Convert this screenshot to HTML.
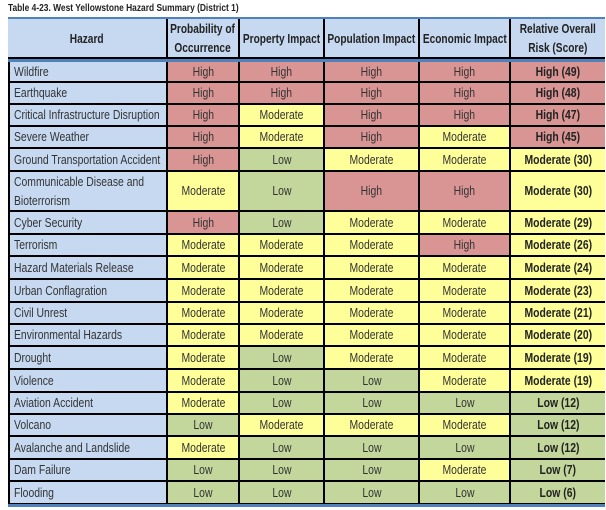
<!DOCTYPE html>
<html><head><meta charset="utf-8"><style>
body{margin:0;width:606px;height:510px;background:#fff;position:relative;overflow:hidden;font-family:"Liberation Sans",sans-serif;}
#title{position:absolute;left:8px;top:2px;font-size:10.5px;font-weight:bold;color:#222;white-space:nowrap;transform:scaleX(0.8);transform-origin:left top;}
.c{position:absolute;box-sizing:border-box;border-right:2px solid #000;border-bottom:2px solid #000;display:flex;align-items:center;justify-content:center;text-align:center;font-size:13px;color:#333;line-height:20px;white-space:nowrap;}
.c span{display:inline-block;transform:scaleX(0.8);}
.h{background:#c6d9f1;font-weight:bold;color:#222;line-height:19px;}
.h span{transform:scaleX(0.78);}
.n{justify-content:flex-start;text-align:left;padding-left:4px;background:#c6d9f1;}
.n span{transform-origin:left center;}
.High{background:#d99594}.Moderate{background:#ffff99}.Low{background:#c3d69b}
.b{font-weight:bold;color:#222}
</style></head><body>
<div id="title">Table 4-23. West Yellowstone Hazard Summary (District 1)</div>
<div id="t"></div>
<script>
const headers=["Hazard","Probability of<br>Occurrence","Property Impact","Population Impact","Economic Impact","Relative Overall<br>Risk (Score)"];
const hazards=["Wildfire","Earthquake","Critical Infrastructure Disruption","Severe Weather","Ground Transportation Accident","Communicable Disease and<br>Bioterrorism","Cyber Security","Terrorism","Hazard Materials Release","Urban Conflagration","Civil Unrest","Environmental Hazards","Drought","Violence","Aviation Accident","Volcano","Avalanche and Landslide","Dam Failure","Flooding"];
const H="High",M="Moderate",L="Low";
const ratings=[[H,H,H,H],[H,H,H,H],[H,M,H,H],[H,M,H,M],[H,L,M,M],[M,L,H,H],[H,L,M,M],[M,M,M,H],[M,M,M,M],[M,M,M,M],[M,M,M,M],[M,M,M,M],[M,L,M,M],[M,L,L,M],[M,L,L,L],[L,M,M,M],[M,L,L,L],[L,L,L,M],[L,L,L,L]];
const overall=[H,H,H,H,M,M,M,M,M,M,M,M,M,M,L,L,L,L,L];
const scores=[49,48,47,45,30,30,29,26,24,23,21,20,19,19,12,12,12,7,6];
const colX=[8,168,240,325,420,511,605];
const rowY=[61,83,105,127,149,172,212,235,257,280,303,325,347,370,393,415,437,460,482,505];
const t=document.getElementById('t');
function cell(x,y,w,h,cls,txt){const d=document.createElement('div');d.className='c '+cls;d.style.left=x+'px';d.style.top=y+'px';d.style.width=w+'px';d.style.height=h+'px';d.innerHTML='<span>'+txt+'</span>';t.appendChild(d);return d;}
function rule(top,h,name){const b=document.createElement('div');b.style.cssText='position:absolute;left:8px;top:'+top+'px;width:597px;height:'+h+'px;background:#4f81bd';


document.body.appendChild(b);}
rule(17,2,'header-top-rule');
headers.forEach((h,i)=>{const d=cell(colX[i],19,colX[i+1]-colX[i],40,'h',h);
if(i==5)d.style.borderRight='none';

});
rule(59,3,'header-bottom-rule');
hazards.forEach((hz,r)=>{
 const y=rowY[r]+(r==0?1:0),h=rowY[r+1]-y;
 const n=cell(colX[0],y,colX[1]-colX[0],h,'n',hz);
 n.style.borderLeft='2px solid #000';
 if(hz.indexOf('<br>')>0)n.style.lineHeight='19px';
 
 
 ratings[r].forEach((v,c)=>{const d=cell(colX[c+1],y,colX[c+2]-colX[c+1],h,v,v);
  
  });
 const o=cell(colX[5],y,colX[6]-colX[5],h,overall[r]+' b',overall[r]+' ('+scores[r]+')');
 o.style.borderRight='none';
 
 
});
rule(504,3,'table-bottom-rule');
</script>
</body></html>
